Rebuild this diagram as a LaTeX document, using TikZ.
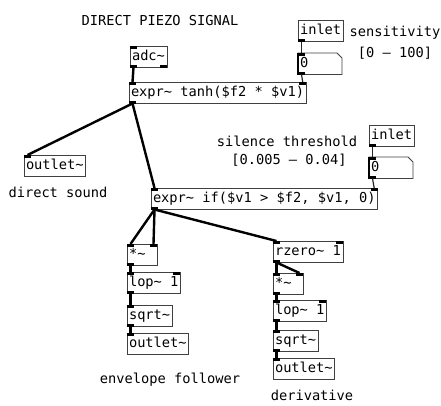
\documentclass[tikz,border=0pt]{standalone}
\usepackage{fontspec}
\setmonofont{DejaVu Sans Mono}
\usetikzlibrary{calc}
% inlet / outlet markers of a Pd box
\newcommand\pdin[1]{\fill[iolet] (#1.north west) rectangle ++(7,2.5);}
\newcommand\pdinr[1]{\fill[iolet] (#1.north east) rectangle ++(-7,2.5);}
\newcommand\pdout[1]{\fill[iolet] (#1.south west) rectangle ++(7,-2.5);}
\newcommand\pdoutr[1]{\fill[iolet] (#1.south east) rectangle ++(-7,-2.5);}
\begin{document}
\begin{tikzpicture}[x=1pt,y=-1pt,
  pdfont/.style={font=\ttfamily\fontsize{13.7}{17}\selectfont},
  obj/.style={pdfont,draw=black!75,line width=0.9pt,rectangle,anchor=north west,
    inner xsep=2pt,inner ysep=0pt,outer sep=0pt,minimum height=21.5pt,
    text height=10pt,text depth=3pt},
  narrow/.style={text width=26pt,align=left},
  numbox/.style={pdfont,anchor=north west,inner xsep=2pt,inner ysep=0pt,outer sep=0pt,
    minimum height=21.5pt,text width=40pt,align=left,text height=10pt,text depth=3pt},
  cmt/.style={pdfont,inner sep=0pt,text=black},
  iolet/.style={fill=black},
  sig/.style={line width=2.4pt,black},
  ctl/.style={line width=1.2pt,black!85}]
\useasboundingbox (0,0) rectangle (441,405);
\fill[white] (0,0) rectangle (441,405);

% comments
\node[cmt] (title) at (160,21) {DIRECT PIEZO SIGNAL};
\node[cmt] (sens) at (395,33) {sensitivity};
\node[cmt] (sensrange) at (395,53) {[0 – 100]};
\node[cmt] (silence) at (287,141) {silence threshold};
\node[cmt] (silrange) at (289,160) {[0.005 – 0.04]};
\node[cmt] (directlbl) at (58,192) {direct sound};
\node[cmt] (envlbl) at (170,380) {envelope follower};
\node[cmt] (derivlbl) at (312,395) {derivative};

% object boxes
\node[obj] (adc) at (130,46) {adc\char`\~};
\node[obj] (tanh) at (129,82) {expr\char`\~\ tanh(\$f2 * \$v1)};
\node[obj] (inA) at (298,20) {inlet};
\node[obj] (inB) at (369,125) {inlet};
\node[obj] (outD) at (24,155) {outlet\char`\~};
\node[obj] (gate) at (151,188) {expr\char`\~\ if(\$v1 > \$f2, \$v1, 0)};
\node[obj,narrow] (mulL) at (127,244) {*\char`\~};
\node[obj] (lopL) at (127,272) {lop\char`\~\ 1};
\node[obj] (sqrtL) at (127,305) {sqrt\char`\~};
\node[obj] (outL) at (127,333) {outlet\char`\~};
\node[obj] (rz) at (273,241) {rzero\char`\~\ 1};
\node[obj,narrow] (mulR) at (273,273) {*\char`\~};
\node[obj] (lopR) at (273,300) {lop\char`\~\ 1};
\node[obj] (sqrtR) at (273,330) {sqrt\char`\~};
\node[obj] (outR) at (273,358) {outlet\char`\~};

% number boxes with the clipped corner
\node[numbox] (numA) at (298,53) {0};
\node[numbox] (numB) at (369,157) {0};
\foreach \n in {numA,numB}{
  \draw[draw=black!75,line width=0.9pt]
    (\n.north west) -- ([xshift=-5pt]\n.north east) -- ([yshift=-5pt]\n.north east)
    -- (\n.south east) -- (\n.south west) -- cycle;
  \draw[black,line width=2pt] (\n.north west) -- (\n.south west);
  \pdin{\n} \pdout{\n}
}

% inlets and outlets
\pdin{adc} \pdout{adc} \pdoutr{adc}
\pdin{tanh} \pdinr{tanh} \pdout{tanh}
\pdout{inA} \pdout{inB}
\pdin{outD}
\pdin{gate} \pdinr{gate} \pdout{gate}
\pdin{mulL} \pdinr{mulL} \pdout{mulL}
\pdin{lopL} \pdinr{lopL} \pdout{lopL}
\pdin{sqrtL} \pdout{sqrtL}
\pdin{outL}
\pdin{rz} \pdinr{rz} \pdout{rz}
\pdin{mulR} \pdinr{mulR} \pdout{mulR}
\pdin{lopR} \pdinr{lopR} \pdout{lopR}
\pdin{sqrtR} \pdout{sqrtR}
\pdin{outR}

% control connections
\draw[ctl] ([xshift=3.5pt]inA.south west) -- ([xshift=3.5pt]numA.north west);
\draw[ctl] ([xshift=3.5pt]numA.south west) -- ([xshift=-3.5pt]tanh.north east);
\draw[ctl] ([xshift=3.5pt]inB.south west) -- ([xshift=3.5pt]numB.north west);
\draw[ctl] ([xshift=3.5pt]numB.south west) -- ([xshift=-3.5pt]gate.north east);

% signal connections
\draw[sig] ([xshift=3.5pt]adc.south west) -- ([xshift=3.5pt]tanh.north west);
\draw[sig] ([xshift=3.5pt]tanh.south west) -- ([xshift=3.5pt]outD.north west);
\draw[sig] ([xshift=3.5pt]tanh.south west) -- ([xshift=3.5pt]gate.north west);
\draw[sig] ([xshift=3.5pt]gate.south west) -- ([xshift=3.5pt]mulL.north west);
\draw[sig] ([xshift=3.5pt]gate.south west) -- ([xshift=-3.5pt]mulL.north east);
\draw[sig] ([xshift=3.5pt]gate.south west) -- ([xshift=3.5pt]rz.north west);
\draw[sig] ([xshift=3.5pt]mulL.south west) -- ([xshift=3.5pt]lopL.north west);
\draw[sig] ([xshift=3.5pt]lopL.south west) -- ([xshift=3.5pt]sqrtL.north west);
\draw[sig] ([xshift=3.5pt]sqrtL.south west) -- ([xshift=3.5pt]outL.north west);
\draw[sig] ([xshift=3.5pt]rz.south west) -- ([xshift=3.5pt]mulR.north west);
\draw[sig] ([xshift=3.5pt]rz.south west) -- ([xshift=-3.5pt]mulR.north east);
\draw[sig] ([xshift=3.5pt]mulR.south west) -- ([xshift=3.5pt]lopR.north west);
\draw[sig] ([xshift=3.5pt]lopR.south west) -- ([xshift=3.5pt]sqrtR.north west);
\draw[sig] ([xshift=3.5pt]sqrtR.south west) -- ([xshift=3.5pt]outR.north west);
\end{tikzpicture}
\end{document}
